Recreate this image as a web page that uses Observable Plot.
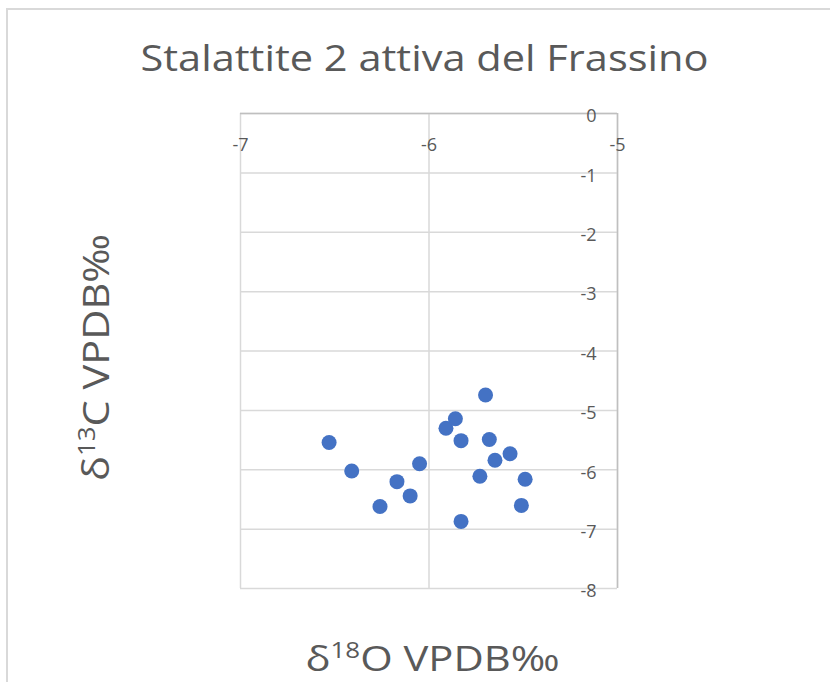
<!DOCTYPE html>
<html>
<head>
<meta charset="utf-8">
<script src="https://cdn.jsdelivr.net/npm/d3@7"></script>
<script src="https://cdn.jsdelivr.net/npm/@observablehq/plot@0.6"></script>
<style>
  html, body { margin: 0; padding: 0; background: #fff; overflow: hidden; }
  #wrap { position: relative; width: 830px; height: 682px; }
  #border { position: absolute; left: 6px; top: 8px; width: 900px; height: 800px;
            border-left: 2px solid #d9d9d9; border-top: 2px solid #d9d9d9; box-sizing: border-box; }
  #chart { position: absolute; left: 0; top: 0; }
</style>
</head>
<body>
<div id="wrap"><div id="border"></div><div id="chart"></div></div>
<script>
const title = "Stalattite 2 attiva del Frassino";
const xLabel = "δ18O VPDB‰";
const yLabel = "δ13C VPDB‰";
const xTicks = [-7, -6, -5];
const yTicks = [0, -1, -2, -3, -4, -5, -6, -7, -8];
const d18O = [-6.53, -6.41, -6.26, -6.17, -6.10, -6.05, -5.91, -5.86, -5.83, -5.83, -5.73, -5.70, -5.68, -5.65, -5.57, -5.51, -5.49];
const d13C = [-5.54, -6.02, -6.62, -6.20, -6.44, -5.90, -5.30, -5.14, -5.51, -6.87, -6.11, -4.74, -5.49, -5.84, -5.73, -6.60, -6.16];

const data = d18O.map((x, i) => ({x, y: d13C[i]}));
const font = "'Open Sans', Lato, sans-serif";
const textColor = "#595959";

const chart = Plot.plot({
  width: 830,
  height: 682,
  marginLeft: 240,
  marginRight: 213,
  marginTop: 113,
  marginBottom: 94,
  style: {fontFamily: font, background: "transparent", overflow: "visible"},
  x: {domain: [-7, -5], axis: null},
  y: {domain: [-8, 0], axis: null},
  marks: [
    Plot.gridX(xTicks, {stroke: "#d9d9d9", strokeOpacity: 1, strokeWidth: 1.5}),
    Plot.gridY(yTicks, {stroke: "#d9d9d9", strokeOpacity: 1, strokeWidth: 1.5}),
    Plot.ruleY([0], {stroke: "#bfbfbf", strokeWidth: 1.5}),
    Plot.ruleX([-5], {stroke: "#bfbfbf", strokeWidth: 1.5}),
    Plot.text(xTicks, {x: d => d, y: () => 0, text: d => String(d), dy: 32, fontSize: 18, fill: textColor}),
    Plot.text(yTicks, {x: () => -5, y: d => d, text: d => String(d), dx: -21, dy: 3, textAnchor: "end", fontSize: 18, fill: textColor}),
    Plot.dot(data, {x: "x", y: "y", r: 7.5, fill: "#4472C4", stroke: "none"}),
    Plot.text([title], {frameAnchor: "top", text: d => d, lineAnchor: "middle", textAnchor: "middle", dy: -54, dx: -4.5, fontSize: 36, fill: textColor, className: "ttl"}),
    Plot.text([xLabel], {frameAnchor: "bottom", text: d => d, lineAnchor: "middle", textAnchor: "middle", dy: 71.5, dx: 3.5, fontSize: 35, fill: textColor, className: "xlab"}),
    Plot.text([yLabel], {frameAnchor: "left", text: d => d, lineAnchor: "middle", textAnchor: "middle", dx: -143, dy: 6.5, rotate: -90, fontSize: 37, fill: textColor, className: "ylab"})
  ]
});
document.getElementById("chart").appendChild(chart);

// render the isotope mass numbers as superscripts and fit text widths
function superscript(sel, shift) {
  d3.select(chart).selectAll(sel + " text").each(function() {
    const t = d3.select(this);
    const m = t.text().match(/^(δ)(\d+)(.*)$/);
    if (!m) return;
    t.text(null);
    t.append("tspan").text(m[1]);
    t.append("tspan").attr("font-size", "0.62em").attr("dy", -shift).text(m[2]);
    t.append("tspan").attr("dy", shift).text(m[3]);
  });
}
superscript(".xlab", 13);
superscript(".ylab", 14);
function fit(sel, len) {
  d3.select(chart).selectAll(sel + " text").attr("textLength", len).attr("lengthAdjust", "spacingAndGlyphs");
}
fit(".ttl", 568);
fit(".xlab", 254);
fit(".ylab", 247);
</script>
</body>
</html>
